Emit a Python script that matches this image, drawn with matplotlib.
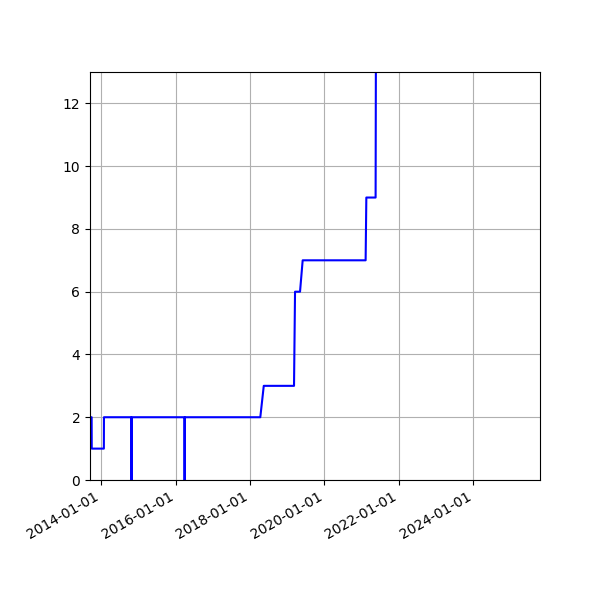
import numpy as np
import pandas as pd
import matplotlib
matplotlib.use("Agg")
import matplotlib.pyplot as plt
import matplotlib.dates as mdates

# values (date, count)
dates = ["2013-08-01", "2013-09-28", "2013-09-29", "2014-01-26", "2014-01-27",
         "2014-10-22", "2014-10-24", "2014-10-26",
         "2016-03-27", "2016-03-29", "2016-03-31",
         "2018-04-11", "2018-05-15",
         "2019-03-08", "2019-03-18",
         "2019-05-06", "2019-06-01",
         "2021-02-08", "2021-02-15",
         "2021-05-17", "2021-05-24"]
values = [2, 2, 1, 1, 2,
          2, 0, 2,
          2, 0, 2,
          2, 3,
          3, 6,
          6, 7,
          7, 9,
          9, 20]

x = pd.to_datetime(dates)

fig = plt.figure(figsize=(6, 6), dpi=100)
ax = fig.add_axes([0.15, 0.2, 0.75, 0.68])
ax.plot(x, values, color="blue", linewidth=1.5)

ax.set_xlim(pd.Timestamp("2013-09-12"), pd.Timestamp("2025-10-17"))
ax.set_ylim(0, 13)
ax.xaxis.set_major_locator(mdates.YearLocator(2))
ax.xaxis.set_major_formatter(mdates.DateFormatter("%Y-%m-%d"))
ax.grid(True)
for lbl in ax.get_xticklabels():
    lbl.set_rotation(30)
    lbl.set_ha("right")

fig.savefig("out.png", dpi=100)
